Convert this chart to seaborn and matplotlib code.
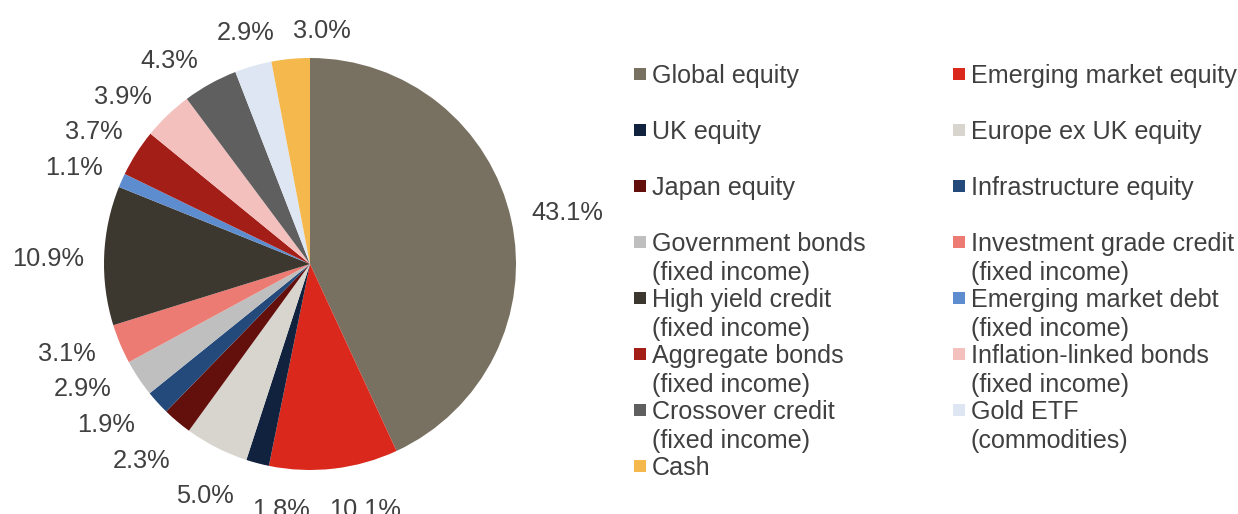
import numpy as np
import matplotlib
matplotlib.use("Agg")
import matplotlib.pyplot as plt
import seaborn as sns
from matplotlib.patches import Patch, Rectangle
from matplotlib.legend_handler import HandlerPatch

categories = [
    "Global equity", "Emerging market equity", "UK equity", "Europe ex UK equity",
    "Japan equity", "Infrastructure equity", "Government bonds\n(fixed income)",
    "Investment grade credit\n(fixed income)", "High yield credit\n(fixed income)",
    "Emerging market debt\n(fixed income)", "Aggregate bonds\n(fixed income)",
    "Inflation-linked bonds\n(fixed income)", "Crossover credit\n(fixed income)",
    "Gold ETF\n(commodities)", "Cash",
]
values = [43.1, 10.1, 1.8, 5.0, 2.3, 1.9, 2.9, 3.1, 10.9, 1.1, 3.7, 3.9, 4.3, 2.9, 3.0]
colors = ["#787060", "#DA291C", "#10223E", "#D8D5CE", "#63100D", "#244A7C", "#BFBFBF",
          "#EC7B73", "#3C3830", "#5E8DCF", "#A41E18", "#F4C0BD", "#5F5F5F", "#DDE6F2",
          "#F4B84C"]

sns.set_theme(style="white")
plt.rcParams["font.family"] = ["Liberation Sans", "DejaVu Sans"]
TXT = "#404040"
FS = 18.1

W, H = 1238, 514
fig = plt.figure(figsize=(W / 100, H / 100), dpi=100)
cx, cy, R = 310, 264, 206
ax = fig.add_axes([(cx - R) / W, (H - cy - R) / H, 2 * R / W, 2 * R / H])
palette = sns.color_palette(colors)

wedges, _, autotexts = ax.pie(
    values, colors=palette, startangle=90, counterclock=False,
    autopct=lambda p: f"{p:.1f}%", pctdistance=1.25,
    wedgeprops=dict(linewidth=0), textprops=dict(color=TXT, fontsize=18.3),
)
ax.set_xlim(-1, 1)
ax.set_ylim(-1, 1)
ax.set_aspect("equal")

# ---- data-label layout: outside end, pushed apart when they collide ----
fig.canvas.draw()
renderer = fig.canvas.get_renderer()
hw = np.array([t.get_window_extent(renderer).width / 2 for t in autotexts])
hh = np.array([t.get_window_extent(renderer).height / 2 for t in autotexts])
angles = np.array([np.deg2rad((w.theta1 + w.theta2) / 2) for w in wedges])
GAP, PADX, PADY, STEP = 20.0, 18.0, 11.0, np.deg2rad(0.25)


def place(i, a):
    r = R + GAP + hw[i] * abs(np.cos(a)) + hh[i] * abs(np.sin(a))
    return r * np.cos(a), r * np.sin(a)


n = len(values)
for _ in range(800):
    moved = False
    for i in range(n):
        j = (i + 1) % n
        xi, yi = place(i, angles[i])
        xj, yj = place(j, angles[j])
        ox = hw[i] + hw[j] + PADX - abs(xi - xj)
        oy = hh[i] + hh[j] + PADY - abs(yi - yj)
        if ox > 0 and oy > 0:
            angles[i] += STEP
            angles[j] -= STEP
            moved = True
    if not moved:
        break
for i, t in enumerate(autotexts):
    x, y = place(i, angles[i])
    t.set_position((x / R, (y - 6) / R))

LINE_SHIFT = 12.3  # points: lift the marker to the first text line


class HandlerFirstLine(HandlerPatch):
    def create_artists(self, legend, orig_handle, xdescent, ydescent, width, height,
                       fontsize, trans):
        size = 8.6
        p = Rectangle(xy=(width - size, -ydescent + LINE_SHIFT + (height - size) / 2),
                      width=size, height=size)
        self.update_prop(p, orig_handle, legend)
        p.set_transform(trans)
        return [p]


handles = [Patch(facecolor=c, edgecolor="none") for c in palette]
labels = [c if "\n" in c else c + "\n " for c in categories]
# legend is read across rows: fill column 1 with even entries, column 2 with odd ones
order = list(range(0, n, 2)) + list(range(1, n, 2))
leg = fig.legend(
    [handles[k] for k in order], [labels[k] for k in order], ncol=2, loc="upper left",
    bbox_to_anchor=(634 / W, 1 - 64 / H), frameon=False, fontsize=FS,
    handlelength=0.475, handleheight=0.475, handletextpad=0.25,
    columnspacing=3.45, labelspacing=0.13, borderpad=0, borderaxespad=0,
    handler_map={Patch: HandlerFirstLine()},
)
for t in leg.get_texts():
    t.set_color(TXT)
    t.set_linespacing(1.25)

fig.savefig("out.png", dpi=100)
